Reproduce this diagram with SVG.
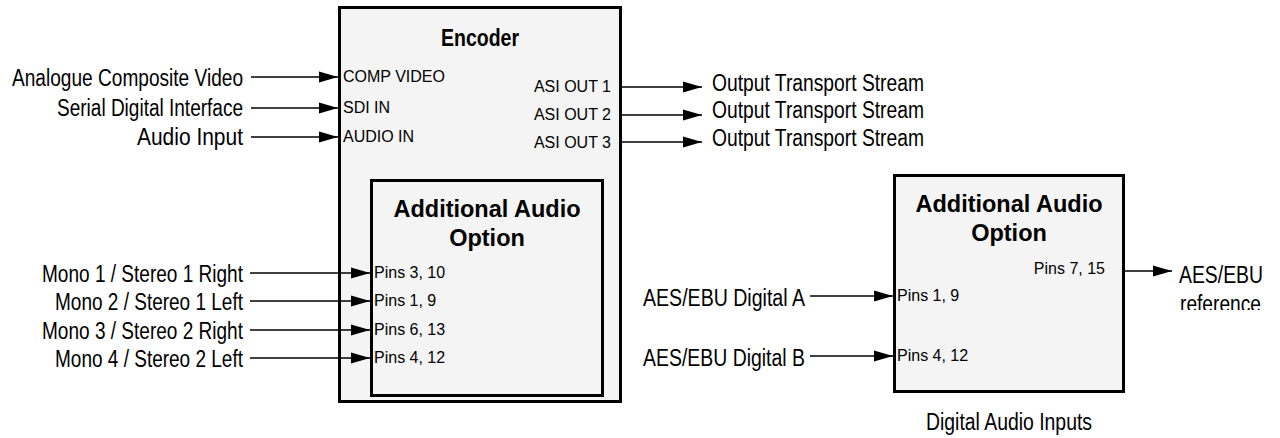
<svg xmlns="http://www.w3.org/2000/svg" width="1280" height="438" viewBox="0 0 1280 438">
<style>
.box{fill:#f4f4f4;stroke:#000;stroke-width:3}
.lbl{font-family:"Liberation Sans Narrow","Liberation Sans",Arial,sans-serif;font-size:23px;fill:#000}
.sm{font-family:"Liberation Sans",Arial,sans-serif;font-size:16px;fill:#000}
.ttl{font-family:"Liberation Sans",Arial,sans-serif;font-size:23.5px;font-weight:bold;fill:#000}
.r{text-anchor:end}
.m{text-anchor:middle}
.wire{stroke:#000;stroke-width:1.5;fill:none;marker-end:url(#ah)}
</style>
<defs>
<marker id="ah" markerUnits="userSpaceOnUse" markerWidth="19" markerHeight="12" refX="19" refY="6" orient="auto">
<path d="M0,0.5 L19,6 L0,11.5 z" fill="#000"/>
</marker>
<clipPath id="clipRef"><rect x="1170" y="290" width="110" height="20"/></clipPath>
</defs>

<g id="encoder">
<rect class="box" x="339.5" y="7.5" width="281" height="394"/>
<text class="lbl m" x="480" y="46" font-weight="bold" textLength="78" lengthAdjust="spacingAndGlyphs">Encoder</text>
<text class="sm" x="343" y="82">COMP VIDEO</text>
<text class="sm" x="343" y="113">SDI IN</text>
<text class="sm" x="343" y="142">AUDIO IN</text>
<text class="sm r" x="611" y="92">ASI OUT 1</text>
<text class="sm r" x="611" y="120">ASI OUT 2</text>
<text class="sm r" x="611" y="148">ASI OUT 3</text>
</g>

<g id="audio-option-analogue">
<rect class="box" x="371.5" y="180.5" width="231" height="215"/>
<text class="ttl m" x="487" y="217">Additional Audio</text>
<text class="ttl m" x="487" y="246">Option</text>
<text class="sm" x="374" y="278">Pins 3, 10</text>
<text class="sm" x="374" y="306">Pins 1, 9</text>
<text class="sm" x="374" y="335">Pins 6, 13</text>
<text class="sm" x="374" y="363">Pins 4, 12</text>
</g>

<g id="audio-option-digital">
<rect class="box" x="894.5" y="175.5" width="229" height="216"/>
<text class="ttl m" x="1009" y="212">Additional Audio</text>
<text class="ttl m" x="1009" y="241">Option</text>
<text class="sm r" x="1105" y="274">Pins 7, 15</text>
<text class="sm" x="897" y="301">Pins 1, 9</text>
<text class="sm" x="897" y="361">Pins 4, 12</text>
<text class="lbl m" x="1009" y="430" textLength="166" lengthAdjust="spacingAndGlyphs">Digital Audio Inputs</text>
</g>

<g id="input-labels">
<text class="lbl r" x="243" y="86" textLength="231" lengthAdjust="spacingAndGlyphs">Analogue Composite Video</text>
<text class="lbl r" x="243" y="116" textLength="186" lengthAdjust="spacingAndGlyphs">Serial Digital Interface</text>
<text class="lbl r" x="243" y="145" textLength="106" lengthAdjust="spacingAndGlyphs">Audio Input</text>
<text class="lbl r" x="243" y="282" textLength="201" lengthAdjust="spacingAndGlyphs">Mono 1 / Stereo 1 Right</text>
<text class="lbl r" x="243" y="310" textLength="188" lengthAdjust="spacingAndGlyphs">Mono 2 / Stereo 1 Left</text>
<text class="lbl r" x="243" y="339" textLength="201" lengthAdjust="spacingAndGlyphs">Mono 3 / Stereo 2 Right</text>
<text class="lbl r" x="243" y="367" textLength="188" lengthAdjust="spacingAndGlyphs">Mono 4 / Stereo 2 Left</text>
<text class="lbl r" x="805" y="306" textLength="162" lengthAdjust="spacingAndGlyphs">AES/EBU Digital A</text>
<text class="lbl r" x="805" y="366" textLength="162" lengthAdjust="spacingAndGlyphs">AES/EBU Digital B</text>
</g>

<g id="output-labels">
<text class="lbl" x="712" y="91" textLength="212" lengthAdjust="spacingAndGlyphs">Output Transport Stream</text>
<text class="lbl" x="712" y="118" textLength="212" lengthAdjust="spacingAndGlyphs">Output Transport Stream</text>
<text class="lbl" x="712" y="146" textLength="212" lengthAdjust="spacingAndGlyphs">Output Transport Stream</text>
<text class="lbl" x="1179" y="283" textLength="84" lengthAdjust="spacingAndGlyphs">AES/EBU</text>
<text class="lbl" x="1180" y="312" textLength="81" lengthAdjust="spacingAndGlyphs" clip-path="url(#clipRef)">reference</text>
</g>

<g id="connectors">
<line class="wire" x1="251" y1="77" x2="338" y2="77"/>
<line class="wire" x1="251" y1="108" x2="338" y2="108"/>
<line class="wire" x1="251" y1="137" x2="338" y2="137"/>
<line class="wire" x1="622" y1="87" x2="702" y2="87"/>
<line class="wire" x1="622" y1="115" x2="702" y2="115"/>
<line class="wire" x1="622" y1="142" x2="702" y2="142"/>
<line class="wire" x1="250" y1="273" x2="370" y2="273"/>
<line class="wire" x1="250" y1="301" x2="370" y2="301"/>
<line class="wire" x1="250" y1="330" x2="370" y2="330"/>
<line class="wire" x1="250" y1="358" x2="370" y2="358"/>
<line class="wire" x1="810" y1="296" x2="893" y2="296"/>
<line class="wire" x1="810" y1="356" x2="893" y2="356"/>
<line class="wire" x1="1125" y1="271" x2="1172" y2="271"/>
</g>
</svg>
